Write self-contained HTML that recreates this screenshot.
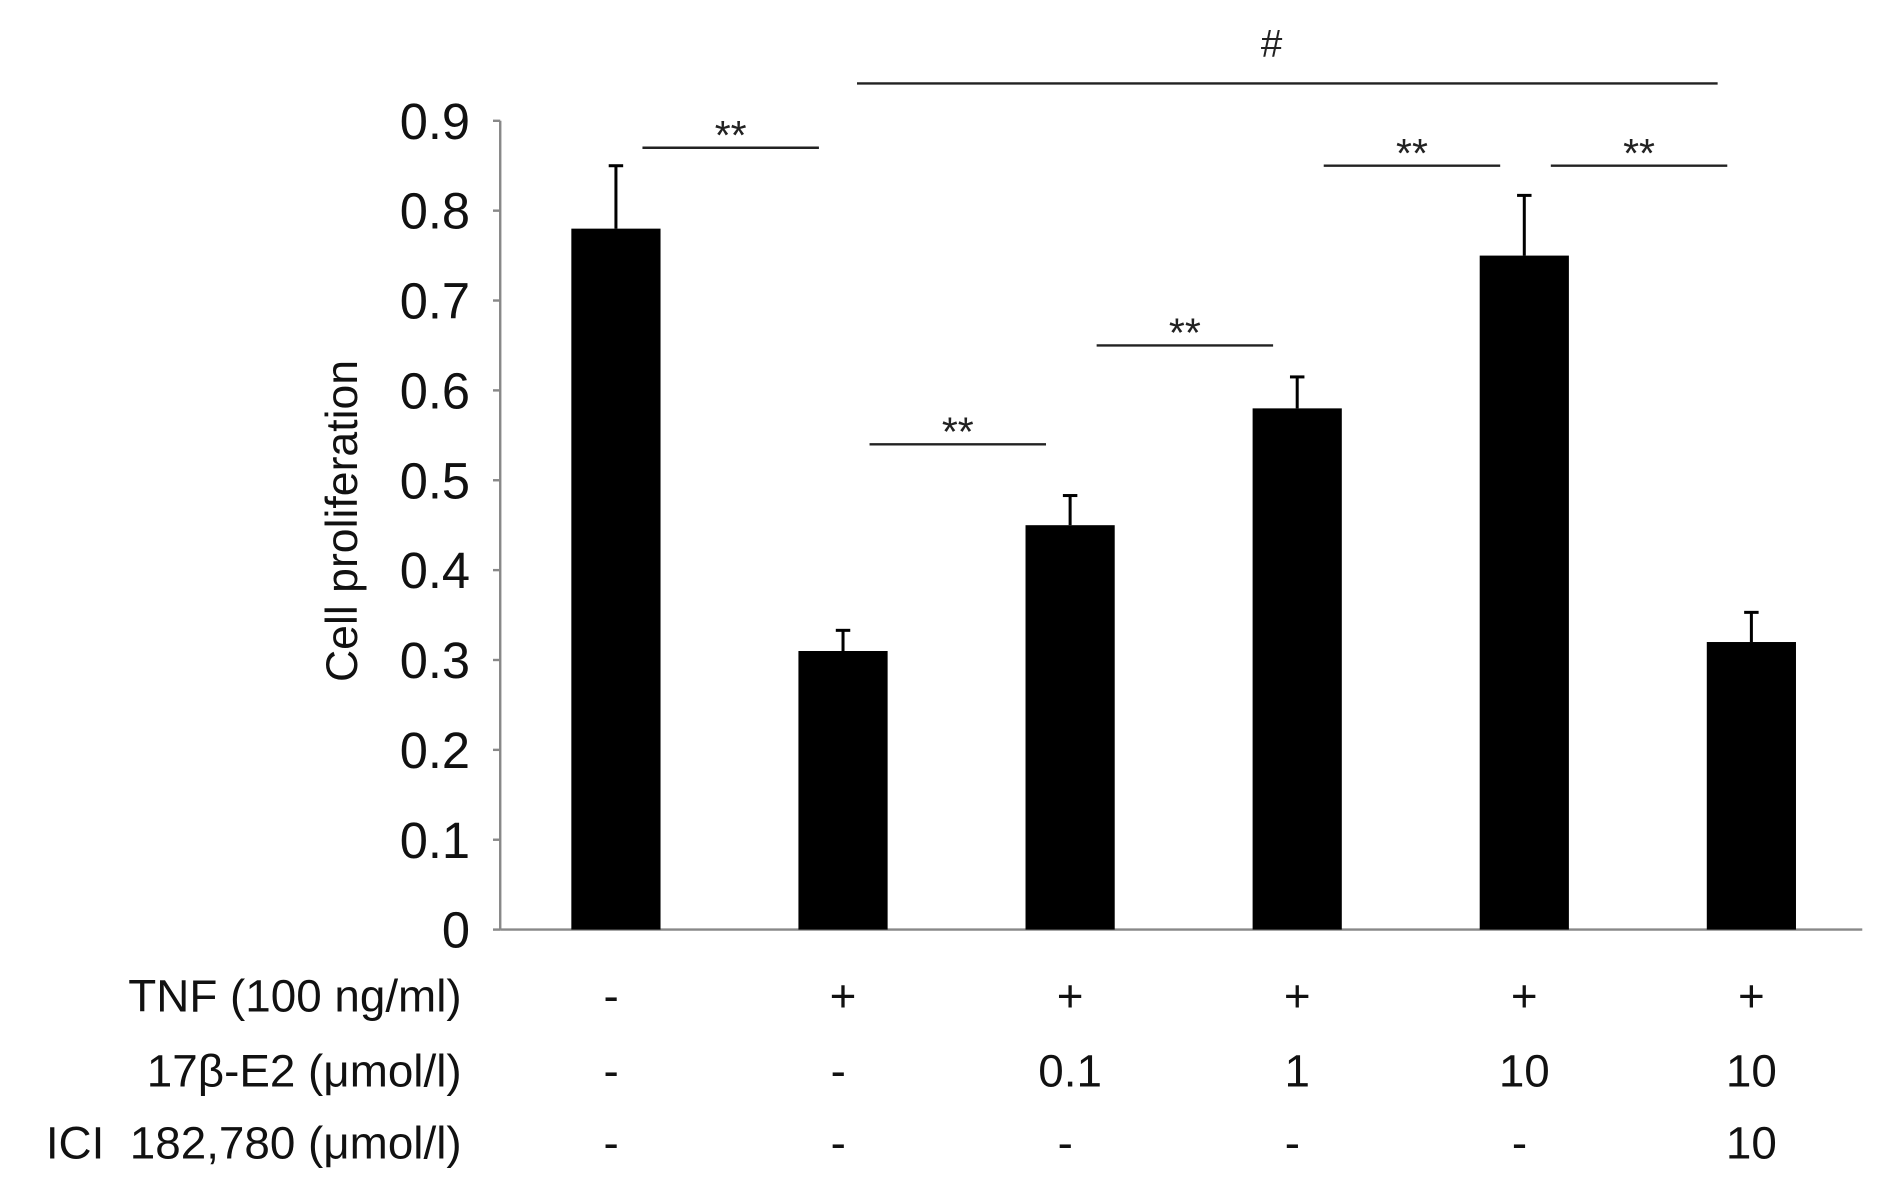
<!DOCTYPE html>
<html><head><meta charset="utf-8"><style>
html,body{margin:0;padding:0;background:#fff;width:1890px;height:1189px;overflow:hidden}
svg text{font-family:"Liberation Sans",sans-serif}
</style></head><body>
<svg id="chart" width="1890" height="1189" viewBox="0 0 1568 986" xmlns="http://www.w3.org/2000/svg"></svg>
<script>
const categories = ["ctrl","tnf","e2-0.1","e2-1","e2-10","e2-10-ici"];
const values = [0.78, 0.31, 0.45, 0.58, 0.75, 0.32];
const errors = [0.07, 0.023, 0.033, 0.035, 0.067, 0.033];
const yTicks = [0,0.1,0.2,0.3,0.4,0.5,0.6,0.7,0.8,0.9];
const yTickLabels = ["0","0.1","0.2","0.3","0.4","0.5","0.6","0.7","0.8","0.9"];
const tnfRow = ["-","+","+","+","+","+"];
const e2Row = ["-","-","0.1","1","10","10"];
const iciRow = ["-","-","-","-","-","10"];
const sigPairs = [[0,1,0.87,"**"],[1,2,0.54,"**"],[2,3,0.65,"**"],[3,4,0.85,"**"],[4,5,0.85,"**"]];

const NS="http://www.w3.org/2000/svg";
const svg=document.getElementById('chart');
const X0=415, X1=1545, Y0=771, Y9=100;
function y(v){return Y0-(Y0-Y9)*v/0.9;}
function xc(i){return 511+i*188.4;}
const BW=74;
function mk(tag,attrs){const e=document.createElementNS(NS,tag);for(const k in attrs)e.setAttribute(k,attrs[k]);svg.appendChild(e);return e;}

let e=mk('line',{x1:X0,y1:Y9,x2:X0,y2:Y0,stroke:'#888','stroke-width':2});


e=mk('line',{x1:X0,y1:Y0,x2:X1,y2:Y0,stroke:'#888','stroke-width':2});



yTicks.forEach((t,i)=>{
  let tk=mk('line',{x1:X0-6,y1:y(t),x2:X0,y2:y(t),stroke:'#888','stroke-width':2});
  
  
  let lb=mk('text',{x:390,y:y(t)+15,'text-anchor':'end','font-size':42,fill:'#111'});
  lb.textContent=yTickLabels[i];
  
  
});

e=mk('text',{x:0,y:0,'text-anchor':'middle','font-size':37,fill:'#111',transform:'translate(296,432) rotate(-90)'});
e.textContent='Cell proliferation';



values.forEach((v,i)=>{
  const cx=xc(i);
  let b=mk('rect',{x:cx-BW/2,y:y(v),width:BW,height:Y0-y(v),fill:'#000'});
  
  
  let el=mk('line',{x1:cx,y1:y(v),x2:cx,y2:y(v+errors[i]),stroke:'#000','stroke-width':2.5});
  
  
  let cap=mk('line',{x1:cx-6,y1:y(v+errors[i]),x2:cx+6,y2:y(v+errors[i]),stroke:'#000','stroke-width':2.5});
  
  
});

sigPairs.forEach(p=>{
  const a=xc(p[0])+22, b=xc(p[1])-20, yy=y(p[2]);
  let l=mk('line',{x1:a,y1:yy,x2:b,y2:yy,stroke:'#222','stroke-width':2});
  
  
  let t=mk('text',{x:(a+b)/2,y:yy+1,'text-anchor':'middle','font-size':34,fill:'#222'});
  t.textContent=p[3];
  
  
});
e=mk('line',{x1:711,y1:69,x2:1425,y2:69,stroke:'#222','stroke-width':2});


e=mk('text',{x:1055,y:47,'text-anchor':'middle','font-size':32,fill:'#222'});
e.textContent='#';



const rows=[["TNF (100 ng/ml)",tnfRow,825,"tnf"],["17\u03B2-E2 (\u03BCmol/l)",e2Row,887,"e2"],["ICI\u00A0\u00A0182,780 (\u03BCmol/l)",iciRow,947,"ici"]];
rows.forEach(r=>{
  let t=mk('text',{x:383,y:r[2]+14,'text-anchor':'end','font-size':38,fill:'#111'});
  t.textContent=r[0];
  
  
  r[1].forEach((s,i)=>{
    let c=mk('text',{x:xc(i)-(s==='-'?4:0),y:r[2]+14,'text-anchor':'middle','font-size':38,fill:'#111'});
    c.textContent=s;
    
    
  });
});
</script>
</body></html>
